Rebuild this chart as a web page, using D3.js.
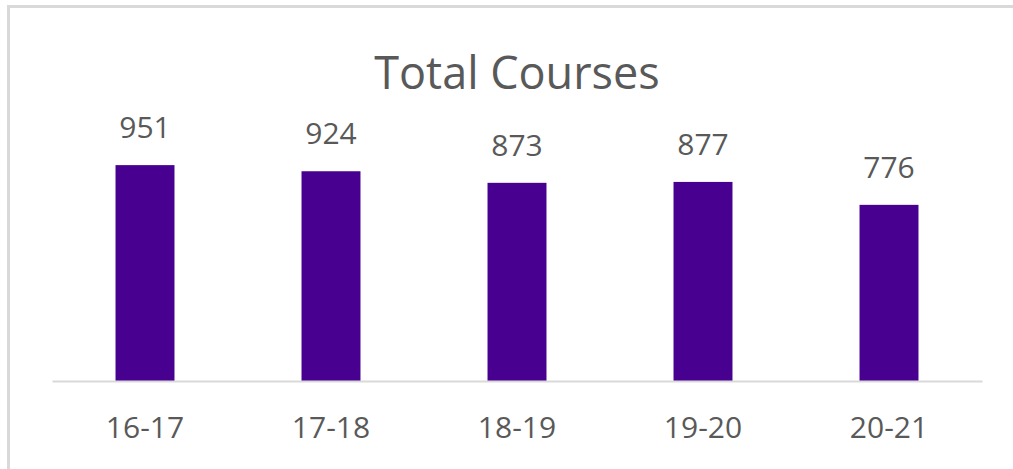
<!DOCTYPE html>
<html>
<head>
<meta charset="utf-8">
<script src="https://cdn.jsdelivr.net/npm/d3@7"></script>
<style>
  body { margin: 0; background: #fff; }
  svg text { font-family: "Open Sans", "Noto Sans", sans-serif; fill: #595959; }
</style>
</head>
<body>
<svg id="chart" width="1013" height="469"></svg>
<script>
// chart data
var years = ["16-17", "17-18", "18-19", "19-20", "20-21"];
var courses = [951, 924, 873, 877, 776];
var title = "Total Courses";

var margin = {top: 154, left: 52, right: 31, bottom: 87};
var width = 1013, height = 469;

var svg = d3.select("#chart");

// outer frame (only top and left edges show in the crop)
svg.append("path")
    .attr("d", "M8.5," + height + "V6.5H" + width)
    .attr("fill", "none")
    .attr("stroke", "#d9d9d9")
    .attr("stroke-width", 3);

var x = d3.scaleBand()
    .domain(years)
    .range([margin.left, width - margin.right])
    .paddingInner(0.683)
    .paddingOuter(0.3415);

var y = d3.scaleLinear()
    .domain([0, 1000])
    .range([height - margin.bottom - 1, margin.top]);

// bars
svg.selectAll("rect.bar")
    .data(courses)
    .enter()
    .append("rect")
    .attr("class", "bar")
    .attr("x", function(d, i) { return x(years[i]); })
    .attr("width", x.bandwidth())
    .attr("y", function(d) { return y(d); })
    .attr("height", function(d) { return y(0) - y(d); })
    .attr("fill", "#480091");

// value labels
svg.selectAll("text.val")
    .data(courses)
    .enter()
    .append("text")
    .attr("class", "val")
    .attr("x", function(d, i) { return x(years[i]) + x.bandwidth() / 2; })
    .attr("y", function(d) { return y(d) - 27; })
    .attr("text-anchor", "middle")
    .style("font-size", "30px")
    .text(function(d) { return d; });

// x axis
var xAxis = d3.axisBottom(x).tickSize(0).tickSizeOuter(0).tickPadding(0);
var gx = svg.append("g")
    .attr("transform", "translate(0," + y(0) + ")")
    .call(xAxis);
gx.select(".domain").attr("stroke", "#d9d9d9").attr("stroke-width", 2);
gx.selectAll("text")
    .attr("dy", null)
    .attr("y", 57)
    .style("font-size", "30px")
    .attr("fill", "#595959");

// title
svg.append("text")
    .attr("x", (margin.left + width - margin.right) / 2)
    .attr("y", 89)
    .attr("text-anchor", "middle")
    .style("font-size", "45px")
    .text(title);
</script>
</body>
</html>
